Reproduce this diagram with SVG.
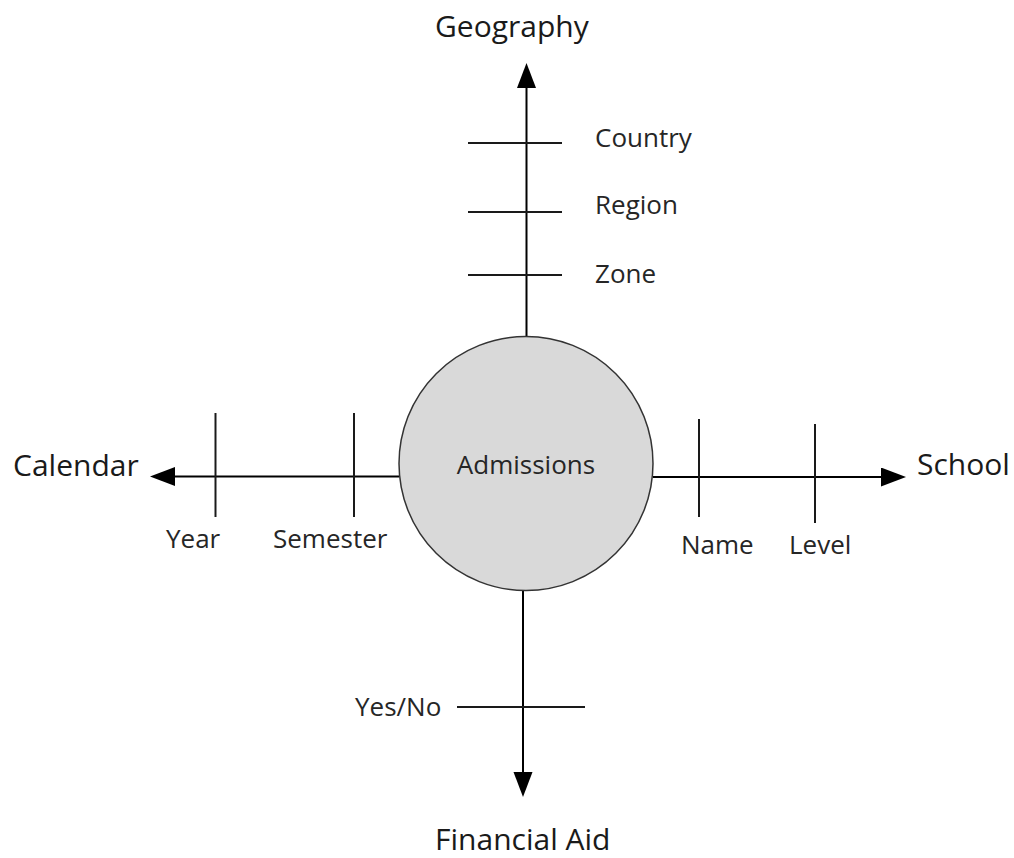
<svg xmlns="http://www.w3.org/2000/svg" width="1014" height="858" viewBox="0 0 1014 858">
<style>
.ax{stroke:#000;stroke-width:2;fill:none}
.tk{stroke:#1a1a1a;stroke-width:2;fill:none}
.lbl{font-family:"Open Sans","Noto Sans",sans-serif;font-size:26px;fill:#262626}
.big{font-family:"Open Sans","Noto Sans",sans-serif;font-size:30px;fill:#1a1a1a}
</style>
<defs>
<marker id="arr" markerUnits="userSpaceOnUse" markerWidth="26" markerHeight="20" refX="0" refY="9.5" orient="auto">
<path d="M0,0 L25,9.5 L0,19 z" fill="#000"/>
</marker>
</defs>
<rect width="1014" height="858" fill="#fff"/>
<g id="connectors">
<line class="ax" x1="526.5" y1="337" x2="526.5" y2="88" marker-end="url(#arr)"/>
<line class="ax" x1="399" y1="476.5" x2="175" y2="476.5" marker-end="url(#arr)"/>
<line class="ax" x1="653" y1="477" x2="881" y2="477" marker-end="url(#arr)"/>
<line class="ax" x1="523" y1="590" x2="523" y2="772" marker-end="url(#arr)"/>
</g>
<g id="admissions">
<circle cx="526" cy="463.5" r="127" fill="#d9d9d9" stroke="#333" stroke-width="1.5"/>
<text class="lbl" x="526" y="474" text-anchor="middle">Admissions</text>
</g>
<g id="geography">
<text class="big" x="435" y="37">Geography</text>
<line class="tk" x1="468" y1="143" x2="562" y2="143"/>
<line class="tk" x1="468" y1="212" x2="562" y2="212"/>
<line class="tk" x1="468" y1="275" x2="562" y2="275"/>
<text class="lbl" x="595" y="147">Country</text>
<text class="lbl" x="595" y="214">Region</text>
<text class="lbl" x="595" y="283">Zone</text>
</g>
<g id="calendar">
<text class="big" x="13" y="476">Calendar</text>
<line class="tk" x1="215.5" y1="413" x2="215.5" y2="517"/>
<line class="tk" x1="354" y1="413" x2="354" y2="517"/>
<text class="lbl" x="166" y="548">Year</text>
<text class="lbl" x="273" y="548">Semester</text>
</g>
<g id="school">
<text class="big" x="917" y="475">School</text>
<line class="tk" x1="699" y1="419" x2="699" y2="517"/>
<line class="tk" x1="815" y1="424" x2="815" y2="523"/>
<text class="lbl" x="681" y="554">Name</text>
<text class="lbl" x="789" y="554">Level</text>
</g>
<g id="financial-aid">
<text class="big" x="435" y="850">Financial Aid</text>
<line class="tk" x1="457" y1="707" x2="585" y2="707"/>
<text class="lbl" x="355" y="716">Yes/No</text>
</g>
</svg>
